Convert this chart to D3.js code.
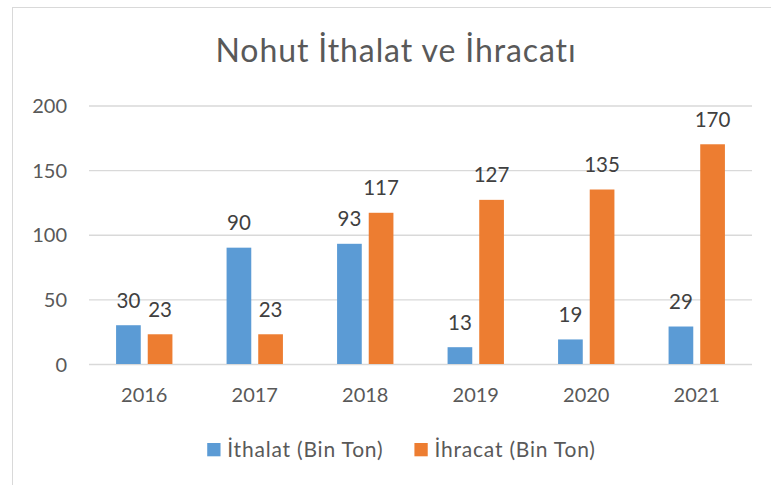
<!DOCTYPE html>
<html>
<head>
<meta charset="utf-8">
<script src="https://cdnjs.cloudflare.com/ajax/libs/d3/7.8.5/d3.min.js"></script>
<style>
  body { margin: 0; background: #fff; }
  svg text { font-family: Lato, "Open Sans", sans-serif; }
</style>
</head>
<body>
<svg id="chart" width="771" height="485"></svg>
<script>
// chart data
const years = ["2016", "2017", "2018", "2019", "2020", "2021"];
const importValues = [30, 90, 93, 13, 19, 29];
const exportValues = [23, 23, 117, 127, 135, 170];
const seriesNames = ["İthalat (Bin Ton)", "İhracat (Bin Ton)"];
const yTicks = [0, 50, 100, 150, 200];
const titleText = "Nohut İthalat ve İhracatı";

const colors = ["#5B9BD5", "#ED7D31"];

const svg = d3.select("#chart");

// frame around the chart area
svg.append("rect")
  .attr("x", 12.5).attr("y", 7.5)
  .attr("width", 800).attr("height", 520)
  .attr("fill", "#fff")
  .attr("stroke", "#d9d9d9")
  .attr("stroke-width", 1);

const plot = { left: 89, right: 752, top: 105.5, bottom: 364 };

const x0 = d3.scaleBand()
  .domain(years)
  .range([plot.left, plot.right])
  .paddingInner(0.49)
  .paddingOuter(0.245);

const x1 = d3.scaleBand()
  .domain(d3.range(seriesNames.length))
  .range([0, x0.bandwidth()])
  .paddingInner(0.22);

const y = d3.scaleLinear()
  .domain([0, 200])
  .range([plot.bottom, plot.top]);

// gridlines + y labels
const yAxis = svg.append("g")
  .attr("transform", `translate(${plot.left},0)`)
  .call(d3.axisLeft(y).tickValues(yTicks).tickSize(-(plot.right - plot.left)).tickPadding(22));
yAxis.select(".domain").remove();
yAxis.selectAll(".tick line").attr("stroke", "#d9d9d9").attr("stroke-width", 1.4);
yAxis.selectAll(".tick text")
  .attr("fill", "#595959")
  .style("font-size", "20px")
  .attr("dy", "0.36em");

// category labels
const xAxis = svg.append("g")
  .attr("transform", `translate(0,${plot.bottom})`)
  .call(d3.axisBottom(x0).tickSize(0).tickPadding(24));
xAxis.select(".domain").remove();
xAxis.selectAll(".tick text")
  .attr("fill", "#595959")
  .style("font-size", "20px");

// bars
const rows = years.map((yr, i) => ({ year: yr, values: [importValues[i], exportValues[i]] }));

const groups = svg.append("g").selectAll("g")
  .data(rows)
  .join("g")
    .attr("transform", d => `translate(${x0(d.year)},0)`);

groups.selectAll("rect")
  .data(d => d.values.map((v, k) => ({ k, v })))
  .join("rect")
    .attr("x", d => x1(d.k))
    .attr("y", d => y(d.v))
    .attr("width", x1.bandwidth())
    .attr("height", d => y(0) - y(d.v))
    .attr("fill", d => colors[d.k]);

// value labels above bars
groups.selectAll("text")
  .data(d => d.values.map((v, k) => ({ k, v })))
  .join("text")
    .attr("x", d => x1(d.k) + x1.bandwidth() / 2)
    .attr("y", d => y(d.v) - 17.5)
    .attr("text-anchor", "middle")
    .attr("fill", "#404040")
    .style("font-size", "20.5px")
    .text(d => d.v);

// title
svg.append("text")
  .attr("x", 396)
  .attr("y", 62)
  .attr("text-anchor", "middle")
  .attr("fill", "#595959")
  .style("font-size", "32px")
  .style("letter-spacing", "0.9px")
  .text(titleText);

// legend
const legend = svg.append("g");
const items = legend.selectAll("g")
  .data(seriesNames)
  .join("g");
items.append("rect")
  .attr("y", 443).attr("width", 13.3).attr("height", 13.3)
  .attr("fill", (d, i) => colors[i]);
items.append("text")
  .attr("x", 20).attr("y", 456.5)
  .attr("fill", "#595959")
  .style("font-size", "21px")
  .style("letter-spacing", "0.8px")
  .text(d => d);

// lay out legend items side by side, centred
let cursor = 0;
const gap = 31;
items.each(function () {
  const w = 20 + d3.select(this).select("text").node().getComputedTextLength();
  d3.select(this).attr("data-off", cursor);
  cursor += w + gap;
});
const total = cursor - gap;
const startX = 401.5 - total / 2;
items.attr("transform", function () {
  return `translate(${startX + +this.getAttribute("data-off")},0)`;
});
</script>
</body>
</html>
